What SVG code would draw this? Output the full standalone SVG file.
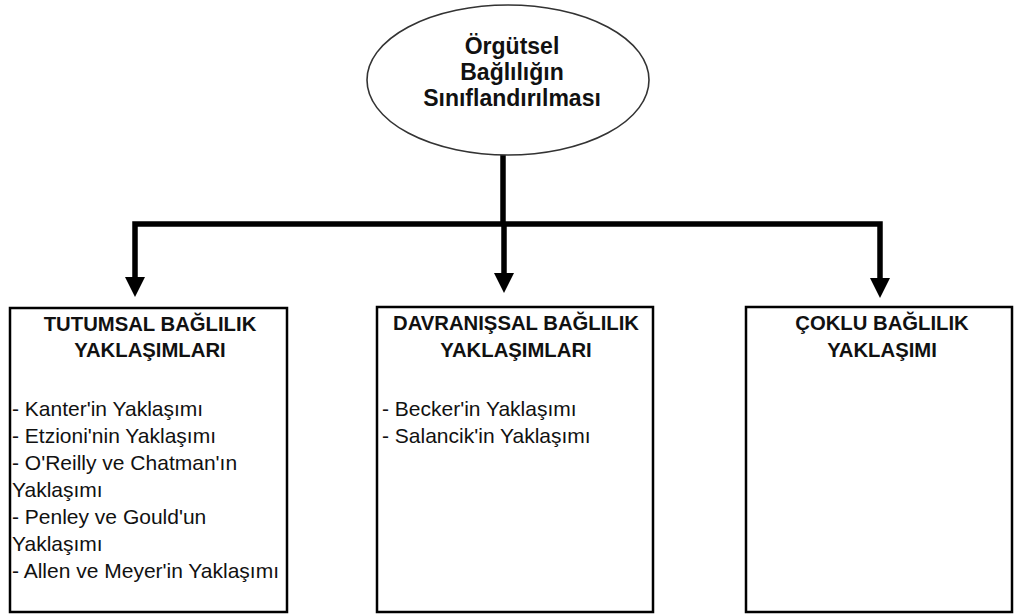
<svg xmlns="http://www.w3.org/2000/svg" width="1014" height="614" viewBox="0 0 1014 614">
<style>
.box{fill:#fff;stroke:#000;stroke-width:2.5}
.ell{fill:#fff;stroke:#333;stroke-width:1.6}
.t{font-family:"Liberation Sans",Arial,sans-serif;fill:#111}
.h{font-size:20.3px;font-weight:bold;text-anchor:middle}
.e{font-size:23px;font-weight:bold;text-anchor:middle}
.l{font-size:21px}
.c{fill:none;stroke:#000;stroke-width:5.5}
.ah{fill:#000}
</style>
<defs>
<path id="head" d="M-10,0 L10,0 L0,20 Z"/>
</defs>
<rect width="1014" height="614" fill="#fff"/>
<g id="connectors">
<line class="c" x1="503" y1="155" x2="503" y2="224"/>
<polyline class="c" points="135,280 135,224 880,224 880,280"/>
<line class="c" x1="504" y1="224" x2="504" y2="276"/>
<use href="#head" class="ah" x="135" y="277"/>
<use href="#head" class="ah" x="504" y="273"/>
<use href="#head" class="ah" x="880" y="278"/>
</g>
<g id="root">
<ellipse class="ell" cx="508" cy="80" rx="141" ry="75"/>
<text class="t e" x="512" y="54">Örgütsel</text>
<text class="t e" x="512" y="80">Bağlılığın</text>
<text class="t e" x="512" y="106">Sınıflandırılması</text>
</g>
<g id="tutumsal">
<rect class="box" x="10" y="308" width="277" height="304"/>
<text class="t h" x="150" y="331">TUTUMSAL BAĞLILIK</text>
<text class="t h" x="150" y="357">YAKLAŞIMLARI</text>
<text class="t l" x="12" y="416">- Kanter'in Yaklaşımı</text>
<text class="t l" x="12" y="443">- Etzioni'nin Yaklaşımı</text>
<text class="t l" x="12" y="470">- O'Reilly ve Chatman'ın</text>
<text class="t l" x="12" y="497">Yaklaşımı</text>
<text class="t l" x="12" y="524">- Penley ve Gould'un</text>
<text class="t l" x="12" y="551">Yaklaşımı</text>
<text class="t l" x="12" y="578">- Allen ve Meyer'in Yaklaşımı</text>
</g>
<g id="davranissal">
<rect class="box" x="377" y="307" width="276" height="305"/>
<text class="t h" x="516" y="330">DAVRANIŞSAL BAĞLILIK</text>
<text class="t h" x="516" y="357">YAKLAŞIMLARI</text>
<text class="t l" x="382" y="416">- Becker'in Yaklaşımı</text>
<text class="t l" x="382" y="443">- Salancik'in Yaklaşımı</text>
</g>
<g id="coklu">
<rect class="box" x="746" y="307" width="266" height="305"/>
<text class="t h" x="882" y="330">ÇOKLU BAĞLILIK</text>
<text class="t h" x="882" y="357">YAKLAŞIMI</text>
</g>
</svg>
